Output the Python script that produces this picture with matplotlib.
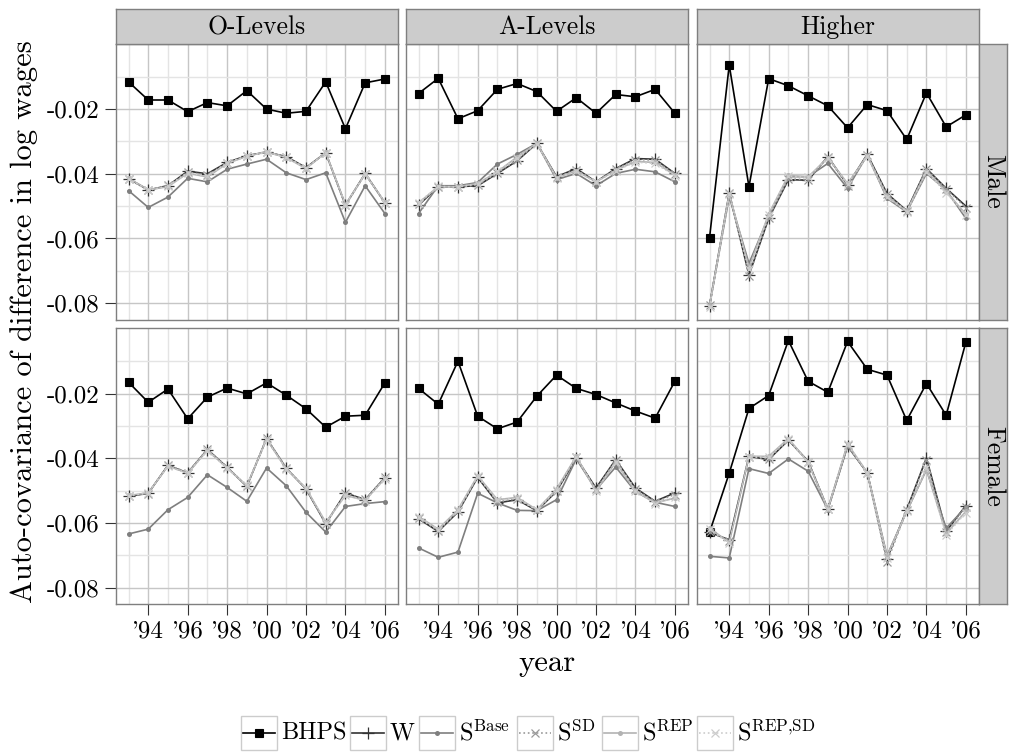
import matplotlib
matplotlib.use('Agg')
import matplotlib.pyplot as plt
from matplotlib.patches import Rectangle
from matplotlib.lines import Line2D

plt.rcParams['font.family'] = 'cmr10'
plt.rcParams['mathtext.fontset'] = 'cm'
plt.rcParams['axes.unicode_minus'] = False

years = list(range(1993, 2007))
educ_levels = ['O-Levels', 'A-Levels', 'Higher']
sexes = ['Male', 'Female']
series_labels = ['BHPS', 'W', r'S$^{\mathrm{Base}}$', r'S$^{\mathrm{SD}}$',
                 r'S$^{\mathrm{REP}}$', r'S$^{\mathrm{REP{,}SD}}$']
x_tick_years = [1994, 1996, 1998, 2000, 2002, 2004, 2006]
x_tick_labels = ["'94", "'96", "'98", "'00", "'02", "'04", "'06"]
y_ticks = [-0.08, -0.06, -0.04, -0.02]
y_tick_labels = ['-0.08', '-0.06', '-0.04', '-0.02']

# ---- O-Levels, male
ol_m_bhps = [-0.0116, -0.0172, -0.0172, -0.0208, -0.0180, -0.0190, -0.0143, -0.0200, -0.0213, -0.0207, -0.0116, -0.0261, -0.0119, -0.0107]
ol_m_w = [-0.0415, -0.0450, -0.0437, -0.0392, -0.0400, -0.0365, -0.0344, -0.0333, -0.0347, -0.0381, -0.0335, -0.0497, -0.0399, -0.0490]
ol_m_base = [-0.0452, -0.0504, -0.0472, -0.0414, -0.0425, -0.0386, -0.0370, -0.0355, -0.0397, -0.0418, -0.0397, -0.0550, -0.0437, -0.0523]
ol_m_sd = [-0.0416, -0.0451, -0.0436, -0.0395, -0.0405, -0.0366, -0.0345, -0.0334, -0.0348, -0.0382, -0.0336, -0.0498, -0.0400, -0.0489]
ol_m_rep = [-0.0414, -0.0449, -0.0440, -0.0398, -0.0410, -0.0368, -0.0346, -0.0332, -0.0350, -0.0384, -0.0334, -0.0495, -0.0401, -0.0488]
ol_m_repsd = [-0.0416, -0.0451, -0.0439, -0.0397, -0.0408, -0.0367, -0.0345, -0.0333, -0.0349, -0.0383, -0.0335, -0.0497, -0.0400, -0.0489]

# ---- A-Levels, male
al_m_bhps = [-0.0152, -0.0105, -0.0230, -0.0205, -0.0139, -0.0121, -0.0146, -0.0207, -0.0165, -0.0213, -0.0155, -0.0162, -0.0139, -0.0213]
al_m_w = [-0.0497, -0.0440, -0.0440, -0.0437, -0.0399, -0.0360, -0.0306, -0.0409, -0.0384, -0.0425, -0.0384, -0.0353, -0.0355, -0.0399]
al_m_base = [-0.0523, -0.0437, -0.0437, -0.0427, -0.0370, -0.0340, -0.0306, -0.0418, -0.0399, -0.0437, -0.0399, -0.0386, -0.0394, -0.0425]
al_m_sd = [-0.0493, -0.0441, -0.0440, -0.0435, -0.0397, -0.0357, -0.0306, -0.0410, -0.0387, -0.0424, -0.0386, -0.0356, -0.0358, -0.0401]
al_m_rep = [-0.0490, -0.0440, -0.0440, -0.0430, -0.0394, -0.0348, -0.0306, -0.0412, -0.0391, -0.0425, -0.0389, -0.0362, -0.0365, -0.0404]
al_m_repsd = [-0.0489, -0.0439, -0.0441, -0.0431, -0.0392, -0.0350, -0.0307, -0.0413, -0.0392, -0.0426, -0.0390, -0.0364, -0.0368, -0.0406]

# ---- Higher, male
hi_m_bhps = [-0.0598, -0.0064, -0.0440, -0.0106, -0.0128, -0.0159, -0.0190, -0.0258, -0.0186, -0.0205, -0.0294, -0.0150, -0.0255, -0.0218]
hi_m_w = [-0.0808, -0.0459, -0.0713, -0.0538, -0.0418, -0.0420, -0.0347, -0.0435, -0.0340, -0.0461, -0.0514, -0.0384, -0.0445, -0.0500]
hi_m_base = [-0.0808, -0.0471, -0.0677, -0.0533, -0.0409, -0.0409, -0.0368, -0.0445, -0.0342, -0.0476, -0.0518, -0.0399, -0.0450, -0.0538]
hi_m_sd = [-0.0806, -0.0460, -0.0715, -0.0536, -0.0416, -0.0418, -0.0349, -0.0438, -0.0341, -0.0463, -0.0515, -0.0386, -0.0447, -0.0505]
hi_m_rep = [-0.0810, -0.0462, -0.0690, -0.0525, -0.0405, -0.0410, -0.0350, -0.0430, -0.0345, -0.0470, -0.0516, -0.0392, -0.0455, -0.0525]
hi_m_repsd = [-0.0812, -0.0463, -0.0695, -0.0527, -0.0407, -0.0411, -0.0352, -0.0432, -0.0346, -0.0472, -0.0517, -0.0394, -0.0458, -0.0528]

# ---- O-Levels, female
ol_f_bhps = [-0.0165, -0.0227, -0.0186, -0.0278, -0.0211, -0.0183, -0.0201, -0.0167, -0.0205, -0.0247, -0.0304, -0.0270, -0.0267, -0.0167]
ol_f_w = [-0.0518, -0.0508, -0.0422, -0.0445, -0.0373, -0.0428, -0.0487, -0.0339, -0.0431, -0.0495, -0.0602, -0.0507, -0.0528, -0.0460]
ol_f_base = [-0.0634, -0.0619, -0.0559, -0.0521, -0.0451, -0.0490, -0.0533, -0.0430, -0.0485, -0.0567, -0.0628, -0.0549, -0.0540, -0.0534]
ol_f_sd = [-0.0517, -0.0509, -0.0421, -0.0444, -0.0372, -0.0427, -0.0486, -0.0338, -0.0430, -0.0494, -0.0603, -0.0508, -0.0527, -0.0459]
ol_f_rep = [-0.0515, -0.0507, -0.0424, -0.0446, -0.0375, -0.0430, -0.0485, -0.0341, -0.0433, -0.0493, -0.0598, -0.0515, -0.0530, -0.0462]
ol_f_repsd = [-0.0516, -0.0506, -0.0425, -0.0447, -0.0376, -0.0431, -0.0484, -0.0342, -0.0434, -0.0492, -0.0599, -0.0514, -0.0531, -0.0463]

# ---- A-Levels, female
al_f_bhps = [-0.0184, -0.0233, -0.0100, -0.0270, -0.0309, -0.0288, -0.0208, -0.0143, -0.0184, -0.0203, -0.0229, -0.0254, -0.0276, -0.0162]
al_f_w = [-0.0587, -0.0626, -0.0566, -0.0459, -0.0538, -0.0528, -0.0562, -0.0502, -0.0399, -0.0492, -0.0404, -0.0492, -0.0533, -0.0507]
al_f_base = [-0.0677, -0.0706, -0.0690, -0.0508, -0.0538, -0.0561, -0.0562, -0.0528, -0.0402, -0.0497, -0.0427, -0.0503, -0.0536, -0.0549]
al_f_sd = [-0.0585, -0.0624, -0.0564, -0.0457, -0.0535, -0.0525, -0.0561, -0.0500, -0.0397, -0.0495, -0.0406, -0.0495, -0.0535, -0.0512]
al_f_rep = [-0.0580, -0.0619, -0.0559, -0.0454, -0.0528, -0.0521, -0.0559, -0.0495, -0.0394, -0.0502, -0.0412, -0.0502, -0.0538, -0.0523]
al_f_repsd = [-0.0582, -0.0621, -0.0561, -0.0455, -0.0530, -0.0523, -0.0560, -0.0497, -0.0395, -0.0500, -0.0410, -0.0500, -0.0540, -0.0520]

# ---- Higher, female
hi_f_bhps = [-0.0629, -0.0446, -0.0246, -0.0206, -0.0036, -0.0162, -0.0196, -0.0039, -0.0125, -0.0143, -0.0283, -0.0169, -0.0267, -0.0041]
hi_f_w = [-0.0629, -0.0652, -0.0394, -0.0404, -0.0344, -0.0409, -0.0557, -0.0361, -0.0445, -0.0711, -0.0559, -0.0399, -0.0626, -0.0546]
hi_f_base = [-0.0703, -0.0708, -0.0432, -0.0447, -0.0402, -0.0440, -0.0559, -0.0363, -0.0445, -0.0701, -0.0564, -0.0435, -0.0616, -0.0551]
hi_f_sd = [-0.0627, -0.0655, -0.0395, -0.0402, -0.0343, -0.0410, -0.0558, -0.0360, -0.0446, -0.0722, -0.0560, -0.0405, -0.0629, -0.0550]
hi_f_rep = [-0.0616, -0.0660, -0.0394, -0.0394, -0.0339, -0.0412, -0.0557, -0.0355, -0.0445, -0.0703, -0.0564, -0.0435, -0.0633, -0.0564]
hi_f_repsd = [-0.0620, -0.0663, -0.0396, -0.0396, -0.0341, -0.0413, -0.0556, -0.0357, -0.0444, -0.0708, -0.0563, -0.0430, -0.0637, -0.0568]

panels = {
    ('Male', 'O-Levels'): [ol_m_bhps, ol_m_w, ol_m_base, ol_m_sd, ol_m_rep, ol_m_repsd],
    ('Male', 'A-Levels'): [al_m_bhps, al_m_w, al_m_base, al_m_sd, al_m_rep, al_m_repsd],
    ('Male', 'Higher'): [hi_m_bhps, hi_m_w, hi_m_base, hi_m_sd, hi_m_rep, hi_m_repsd],
    ('Female', 'O-Levels'): [ol_f_bhps, ol_f_w, ol_f_base, ol_f_sd, ol_f_rep, ol_f_repsd],
    ('Female', 'A-Levels'): [al_f_bhps, al_f_w, al_f_base, al_f_sd, al_f_rep, al_f_repsd],
    ('Female', 'Higher'): [hi_f_bhps, hi_f_w, hi_f_base, hi_f_sd, hi_f_rep, hi_f_repsd],
}

# line style per series: colour, linestyle, marker, marker size
styles = [
    dict(color='black', ls='-', marker='s', ms=5.8, mew=0.8),
    dict(color='#333333', ls='-', marker='+', ms=8, mew=0.9),
    dict(color='#7f7f7f', ls='-', marker='o', ms=3.6, mew=0),
    dict(color='#999999', ls=':', marker='x', ms=5.5, mew=0.9),
    dict(color='#b3b3b3', ls='-', marker='o', ms=3.6, mew=0),
    dict(color='#cccccc', ls=':', marker='x', ms=5.5, mew=0.9),
]

W, H = 1009, 753
fig = plt.figure(figsize=(W / 100, H / 100), dpi=100)

col_left = [115.7, 405.7, 696.7]
panel_w = 282.0
row_top = [43.7, 328.2]
panel_h = 276.0
border = '#7f7f7f'
tick_fs = 18
strip_fs = 18.5
title_fs = 22
legend_fs = 17.5


def px_axes(x0, y0, w, h):
    return fig.add_axes([x0 / W, 1 - (y0 + h) / H, w / W, h / H])


for r, sex in enumerate(sexes):
    for c, edu in enumerate(educ_levels):
        ax = px_axes(col_left[c], row_top[r], panel_w, panel_h)
        ax.set_xlim(1992.35, 2006.65)
        ax.set_ylim(-0.0851, 0.0002)
        ax.set_xticks(x_tick_years)
        ax.set_xticks([1993, 1995, 1997, 1999, 2001, 2003, 2005], minor=True)
        ax.set_yticks(y_ticks)
        ax.set_yticks([-0.07, -0.05, -0.03, -0.01], minor=True)
        ax.grid(True, which='major', color='#c6c6c6', lw=1.0)
        ax.grid(True, which='minor', color='#e4e4e4', lw=1.0)
        ax.set_axisbelow(True)
        ax.tick_params(which='minor', length=0)
        ax.tick_params(which='major', length=8, width=0.8, color='#333333',
                       labelsize=tick_fs, pad=4)
        for s in ax.spines.values():
            s.set_color(border)
            s.set_linewidth(1.0)
        if c == 0:
            ax.set_yticklabels(y_tick_labels)
        else:
            ax.tick_params(axis='y', which='major', length=0, labelleft=False)
        if r == 1:
            ax.set_xticklabels(x_tick_labels)
        else:
            ax.tick_params(axis='x', which='major', length=0, labelbottom=False)

        for vals, st in zip(panels[(sex, edu)], styles):
            ax.plot(years, vals, color=st['color'], ls=st['ls'], lw=1.2,
                    marker=st['marker'], ms=st['ms'], mew=st['mew'],
                    mec=st['color'], mfc=st['color'])

        # top strip with education level
        if r == 0:
            sax = px_axes(col_left[c], 9.3, panel_w, 34.4)
            sax.set_facecolor('#cccccc')
            sax.set_xticks([])
            sax.set_yticks([])
            for s in sax.spines.values():
                s.set_color(border)
                s.set_linewidth(1.0)
            sax.text(0.5, 0.47, edu, ha='center', va='center', fontsize=strip_fs,
                     transform=sax.transAxes)
        # right strip with sex
        if c == 2:
            rax = px_axes(979.3, row_top[r], 27.5, panel_h)
            rax.set_facecolor('#cccccc')
            rax.set_xticks([])
            rax.set_yticks([])
            for s in rax.spines.values():
                s.set_color(border)
                s.set_linewidth(1.0)
            rax.text(0.5, 0.5, sex, ha='center', va='center', fontsize=strip_fs,
                     rotation=-90, transform=rax.transAxes)

fig.text(547 / W, 1 - 663 / H, 'year', ha='center', va='center', fontsize=title_fs)
fig.text(24 / W, 1 - 322 / H, 'Auto-covariance of difference in log wages',
         ha='center', va='center', rotation=90, fontsize=title_fs)

# legend: boxed keys along the bottom
lax = fig.add_axes([0, 0, 1, 1])
lax.set_xlim(0, W)
lax.set_ylim(H, 0)
lax.axis('off')
key_x = [241, 350, 419, 517, 602, 697]
key_w, key_top, key_h = 36, 716, 34
for x0, lab, st in zip(key_x, series_labels, styles):
    lax.add_patch(Rectangle((x0, key_top), key_w, key_h, fill=False,
                            ec='#cccccc', lw=1.0))
    yc = key_top + key_h / 2
    lax.add_line(Line2D([x0 + 2, x0 + key_w - 2], [yc, yc], color=st['color'],
                        ls=st['ls'], lw=1.2))
    lax.add_line(Line2D([x0 + key_w / 2], [yc], color=st['color'], ls='none',
                        marker=st['marker'], ms=st['ms'], mew=st['mew'],
                        mec=st['color'], mfc=st['color']))
    lax.text(x0 + key_w + 4, yc, lab, ha='left', va='center', fontsize=legend_fs)

fig.savefig('out.png', dpi=100)
